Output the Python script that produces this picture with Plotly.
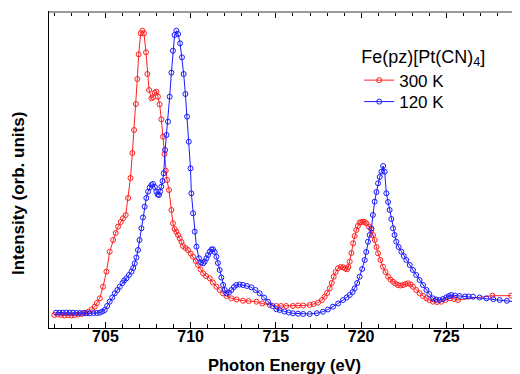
import plotly.graph_objects as go

# Photon energy (eV) and intensity (arb. units)
energy_300K = [702.0, 702.2, 702.4, 702.6, 702.8, 703.0, 703.2, 703.4, 703.6, 703.8, 704.0, 704.2, 704.37, 704.5,
               704.67, 704.86, 705.06, 705.25, 705.45, 705.6, 705.74, 705.9, 706.03, 706.19, 706.33, 706.47,
               706.58, 706.68, 706.79, 706.87, 706.95, 707.07, 707.17, 707.26, 707.38, 707.46, 707.56, 707.70,
               707.79, 707.89, 707.99, 708.08, 708.18, 708.28, 708.38, 708.46, 708.54, 708.61, 708.73, 708.87,
               708.96, 709.06, 709.16, 709.26, 709.36, 709.46, 709.55, 709.7, 709.84, 710.0, 710.14, 710.3,
               710.43, 710.58, 710.73, 710.9, 711.12, 711.3, 711.51, 711.7, 711.9, 712.1, 712.39, 712.7,
               713.07, 713.4, 713.86, 714.2, 714.64, 715.03, 715.3, 715.6, 716.0, 716.3, 716.6, 716.98, 717.2,
               717.47, 717.7, 717.86, 718.0, 718.16, 718.28, 718.39, 718.5, 718.64, 718.8, 718.94, 719.06,
               719.17, 719.25, 719.33, 719.43, 719.53, 719.62, 719.72, 719.81, 719.91, 720.01, 720.11, 720.21,
               720.31, 720.45, 720.6, 720.7, 720.8, 720.9, 720.99, 721.13, 721.28, 721.43, 721.58, 721.72,
               721.87, 722.0, 722.16, 722.3, 722.46, 722.6, 722.75, 722.9, 723.04, 723.23, 723.43, 723.63,
               723.83, 724.0, 724.21, 724.45, 724.7, 724.95, 725.19, 725.45, 725.68, 727.7, 728.8]
intensity_300K = [13, 13.5, 13, 12.5, 13, 12.5, 13, 13.5, 14, 15, 16.3, 18.5, 21.3, 25,
                  29.7, 41.3, 56.3, 76.3, 88, 95, 101.3, 106, 109.7, 113, 130, 150,
                  175, 198, 224, 249, 273.7, 294.7, 297.3, 294.7, 275.7, 254, 238, 229.7,
                  230.7, 235.3, 236.3, 231.3, 223.7, 208.7, 191.3, 174, 157.3, 148, 138, 118,
                  104.7, 99, 96.3, 93, 89.7, 86, 82, 80, 78, 74.5, 71.3, 67,
                  63, 58.5, 54.7, 52, 49.7, 45.5, 41.3, 38, 34.7, 32, 29.7, 28.5,
                  27.3, 27, 26.3, 24.5, 23, 22, 22, 22, 22, 22.5, 22.5, 23, 24,
                  25.3, 28, 31.3, 35, 39.7, 45, 51.3, 56, 59.7, 61, 60.7, 59.5,
                  58.7, 61, 66.3, 75, 84.7, 92, 98, 102, 105.3, 106, 106.3, 106,
                  104.7, 101.5, 98, 93, 88, 81, 74.7, 68, 61.3, 56, 51.3, 48.5,
                  46.3, 44.5, 43, 42.5, 43, 44, 44.7, 43.5, 41.3, 38, 34.7, 32,
                  29.7, 28, 26.3, 26, 26.3, 28, 29.7, 29, 28, 32.3, 32.3]

energy_120K = [702.1, 702.3, 702.5, 702.7, 702.9, 703.1, 703.3, 703.5, 703.7, 703.9, 704.08, 704.3, 704.5,
               704.67, 704.82, 704.96, 705.1, 705.25, 705.4, 705.55, 705.7, 705.84, 706.0, 706.1, 706.23,
               706.38, 706.53, 706.63, 706.72, 706.82, 706.91, 707.0, 707.11, 707.2, 707.3, 707.4, 707.5,
               707.6, 707.7, 707.79, 707.9, 707.99, 708.07, 708.14, 708.21, 708.28, 708.35, 708.42, 708.5,
               708.58, 708.67, 708.77, 708.87, 708.96, 709.06, 709.16, 709.26, 709.38, 709.49, 709.59,
               709.69, 709.79, 709.89, 709.99, 710.04, 710.14, 710.24, 710.34, 710.49, 710.61, 710.73,
               710.82, 710.92, 711.02, 711.12, 711.22, 711.31, 711.41, 711.51, 711.6, 711.7, 711.8, 711.9,
               712.0, 712.1, 712.25, 712.39, 712.54, 712.68, 712.87, 713.07, 713.3, 713.56, 713.8, 714.05,
               714.3, 714.54, 714.8, 715.03, 715.22, 715.5, 715.75, 716.0, 716.3, 716.6, 716.98, 717.4,
               717.76, 718.05, 718.35, 718.65, 718.94, 719.15, 719.33, 719.5, 719.62, 719.77, 719.91,
               720.06, 720.21, 720.3, 720.4, 720.5, 720.6, 720.69, 720.79, 720.9, 720.99, 721.09, 721.19,
               721.29, 721.38, 721.48, 721.58, 721.67, 721.77, 721.87, 721.96, 722.06, 722.2, 722.36,
               722.5, 722.65, 722.85, 723.04, 723.23, 723.43, 723.63, 723.83, 724.0, 724.21, 724.4, 724.6,
               724.8, 725.0, 725.15, 725.29, 725.5, 725.78, 726.1, 726.3, 726.56, 726.95, 727.35, 727.75,
               728.13, 728.55, 729.01]
intensity_120K = [15.3, 15.3, 15.3, 15.5, 15.3, 15.3, 15, 15, 15, 14.8, 14.7, 15, 15,
                  15.3, 16.5, 18, 22, 26.3, 30.5, 34.7, 38, 41.3, 45, 47.5, 49.7,
                  53, 56.3, 60, 64.7, 70.5, 78, 88, 99.7, 110.5, 121.3, 130, 136.3,
                  140.5, 143, 144, 141, 136.3, 133.5, 133, 136.5, 141.3, 147, 154.7, 178,
                  193, 206.3, 231.3, 255.3, 277.3, 293, 297.3, 294, 284.7, 270.7, 254,
                  234, 211.3, 186.3, 159.7, 134.7, 114.7, 96.3, 81.3, 69.7, 65.5, 64.7,
                  66.5, 69.7, 73, 76.3, 78.5, 78.7, 76, 71.3, 65, 58, 50.5, 43,
                  38, 34.7, 35.5, 38, 41, 43, 43.5, 43, 42, 40.7, 38, 34.7,
                  30.5, 26.3, 22, 18.7, 18, 16.5, 15.5, 14.7, 14.3, 14, 14, 14.8,
                  16.3, 18.5, 21.3, 24.5, 28, 30.5, 33, 36, 39.7, 45, 51.3,
                  59, 68, 76, 86.3, 93, 99.7, 113, 126.3, 136, 144.7, 151, 156.3,
                  162, 156.3, 134.7, 126, 118, 109, 99.7, 93, 86.3, 81, 76.3,
                  72, 68, 63, 58, 53, 48, 43, 38, 34, 29.7, 28.5, 28,
                  29, 30.7, 32, 33, 32.5, 32, 31.5, 31.5, 31.3, 30.5, 29.7, 28.8,
                  28, 27.2, 26.3]

FONT = "Liberation Sans, Arial, sans-serif"

fig = go.Figure()
fig.add_trace(go.Scatter(
    x=energy_300K, y=intensity_300K, name="300 K", mode="lines+markers", legend="legend",
    line=dict(color="#ff2020", width=1),
    marker=dict(symbol="circle-open", size=5, color="#ff2020", line=dict(width=1)),
))
fig.add_trace(go.Scatter(
    x=energy_120K, y=intensity_120K, name="120 K", mode="lines+markers", legend="legend2",
    line=dict(color="#1a1aff", width=1),
    marker=dict(symbol="circle-open", size=5, color="#1a1aff", line=dict(width=1)),
))

xr = [701.69, 729.26]
yr = [0, 316]
# the page body adds an 8px offset, so the figure is 8px smaller with tighter top/left margins
fig.update_layout(
    width=512, height=366,
    margin=dict(l=41, r=1, t=4, b=46),
    paper_bgcolor="white", plot_bgcolor="white",
    font=dict(family=FONT, color="black"),
    showlegend=True,
    legend=dict(
        x=0.66, y=0.914, xanchor="left", yanchor="top",
        bgcolor="rgba(0,0,0,0)",
        font=dict(size=17, color="black"),
        title=dict(text="Fe(pz)[Pt(CN)<sub>4</sub>]", font=dict(size=18, color="black"), side="top"),
        itemwidth=30,
    ),
    legend2=dict(
        x=0.66, y=0.772, xanchor="left", yanchor="top",
        bgcolor="rgba(0,0,0,0)",
        font=dict(size=17, color="black"),
        itemwidth=30,
    ),
    xaxis=dict(
        range=xr, showline=True, linecolor="black", linewidth=1, mirror="allticks", automargin=False,
        ticks="inside", ticklen=6, tickcolor="black", tickwidth=1, dtick=5, tick0=705,
        minor=dict(dtick=1, ticks="inside", ticklen=4, tickcolor="black", tickwidth=1),
        showgrid=False, zeroline=False, ticklabelstandoff=-6,
        tickprefix="<b>", ticksuffix="</b>",
        tickfont=dict(size=16, family=FONT, color="black"),
    ),
    yaxis=dict(
        range=yr, showline=True, linecolor="black", linewidth=1, automargin=False,
        ticks="", showticklabels=False, showgrid=False, zeroline=False,
    ),
    shapes=[
        dict(type="line", xref="paper", yref="paper", x0=0, x1=1, y0=1, y1=1,
             line=dict(color="#9a9a9a", width=2), layer="above"),
        dict(type="line", xref="paper", yref="paper", x0=1, x1=1, y0=0, y1=1,
             line=dict(color="#9a9a9a", width=2), layer="above"),
    ],
    annotations=[
        dict(text="<b>Photon Energy (eV)</b>", xref="paper", yref="paper", x=0.5, y=-0.117,
             xanchor="center", yanchor="middle", showarrow=False, font=dict(size=16.5, family=FONT, color="black")),
        dict(text="<b>Intensity (orb. units)</b>", xref="paper", yref="paper", x=-0.066, y=0.427,
             xanchor="center", yanchor="middle", textangle=-90, showarrow=False,
             font=dict(size=17, family=FONT, color="black")),
    ],
)
fig.write_html("out.html")
